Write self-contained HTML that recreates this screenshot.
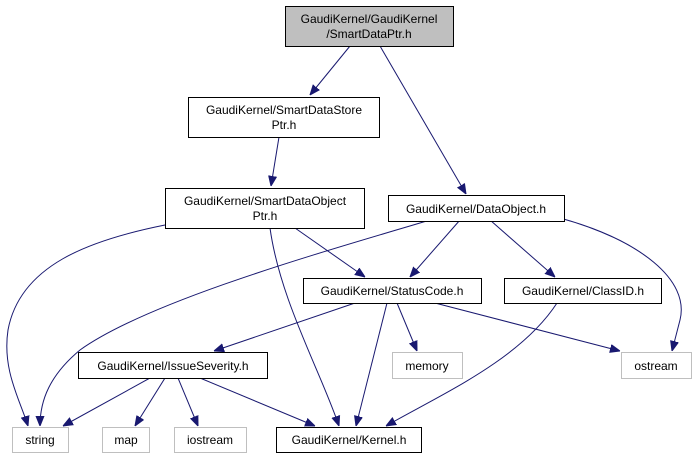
<!DOCTYPE html>
<html><head><meta charset="utf-8"><style>
html,body{margin:0;padding:0;background:#fff;}
svg{display:block;}
text{font-family:"Liberation Sans",sans-serif;font-size:12px;fill:#000;}
</style></head><body>
<svg width="695" height="459" viewBox="0 0 695 459" xmlns="http://www.w3.org/2000/svg">
<defs>
<marker id="a" viewBox="0 0 10 10" refX="10" refY="5" markerWidth="10" markerHeight="10" markerUnits="userSpaceOnUse" orient="auto">
<path d="M0,1 L10,5 L0,9 z" fill="#191970" stroke="#191970"/>
</marker>
</defs>
<g fill="none" stroke="#191970" stroke-width="1" marker-end="url(#a)">
<path d="M350,46 L310,95"/>
<path d="M380,46 L466,194"/>
<path d="M279,137 L271,186"/>
<path d="M165,225 C90,240 20,265 8,330 C2,370 20,400 28,426"/>
<path d="M270,228 C280,300 320,370 339,426"/>
<path d="M295,228 L365,277"/>
<path d="M430,220 C330,250 150,300 80,350 C50,375 40,400 40,426"/>
<path d="M460,220 L410,277"/>
<path d="M490,220 L555,277"/>
<path d="M560,218 C640,240 690,280 680,320 L672,351"/>
<path d="M355,303 L214,351"/>
<path d="M397,303 L417,351"/>
<path d="M435,303 L620,351"/>
<path d="M387,303 L356,426"/>
<path d="M557,303 C520,360 440,395 386,426"/>
<path d="M150,378 L63,426"/>
<path d="M165,378 L135,426"/>
<path d="M178,378 L198,426"/>
<path d="M200,378 L315,426"/>
</g>
<g stroke-width="1">
<rect x="285.5" y="6.5" width="168" height="40" fill="#bfbfbf" stroke="#000"/>
<rect x="188.5" y="97.5" width="191" height="40" fill="#fff" stroke="#000"/>
<rect x="165.5" y="188.5" width="199" height="40" fill="#fff" stroke="#000"/>
<rect x="388.5" y="195.5" width="176" height="26" fill="#fff" stroke="#000"/>
<rect x="303.5" y="278.5" width="178" height="25" fill="#fff" stroke="#000"/>
<rect x="504.5" y="278.5" width="157" height="25" fill="#fff" stroke="#000"/>
<rect x="78.5" y="352.5" width="189" height="26" fill="#fff" stroke="#000"/>
<rect x="392.5" y="352.5" width="70" height="26" fill="#fff" stroke="#bfbfbf"/>
<rect x="621.5" y="352.5" width="70" height="26" fill="#fff" stroke="#bfbfbf"/>
<rect x="12.5" y="427.5" width="56" height="25" fill="#fff" stroke="#bfbfbf"/>
<rect x="102.5" y="427.5" width="47" height="25" fill="#fff" stroke="#bfbfbf"/>
<rect x="174.5" y="427.5" width="72" height="25" fill="#fff" stroke="#bfbfbf"/>
<rect x="276.5" y="427.5" width="145" height="25" fill="#fff" stroke="#000"/>
</g>
<g text-anchor="middle">
<text x="369" y="23">GaudiKernel/GaudiKernel</text>
<text x="369" y="38">/SmartDataPtr.h</text>
<text x="284" y="114">GaudiKernel/SmartDataStore</text>
<text x="284" y="129">Ptr.h</text>
<text x="265" y="205">GaudiKernel/SmartDataObject</text>
<text x="265" y="220">Ptr.h</text>
<text x="476" y="213">GaudiKernel/DataObject.h</text>
<text x="392" y="295">GaudiKernel/StatusCode.h</text>
<text x="583" y="295">GaudiKernel/ClassID.h</text>
<text x="173" y="370">GaudiKernel/IssueSeverity.h</text>
<text x="427" y="370">memory</text>
<text x="656" y="370">ostream</text>
<text x="40" y="444">string</text>
<text x="126" y="444">map</text>
<text x="210" y="444">iostream</text>
<text x="349" y="444">GaudiKernel/Kernel.h</text>
</g>
</svg>
</body></html>
